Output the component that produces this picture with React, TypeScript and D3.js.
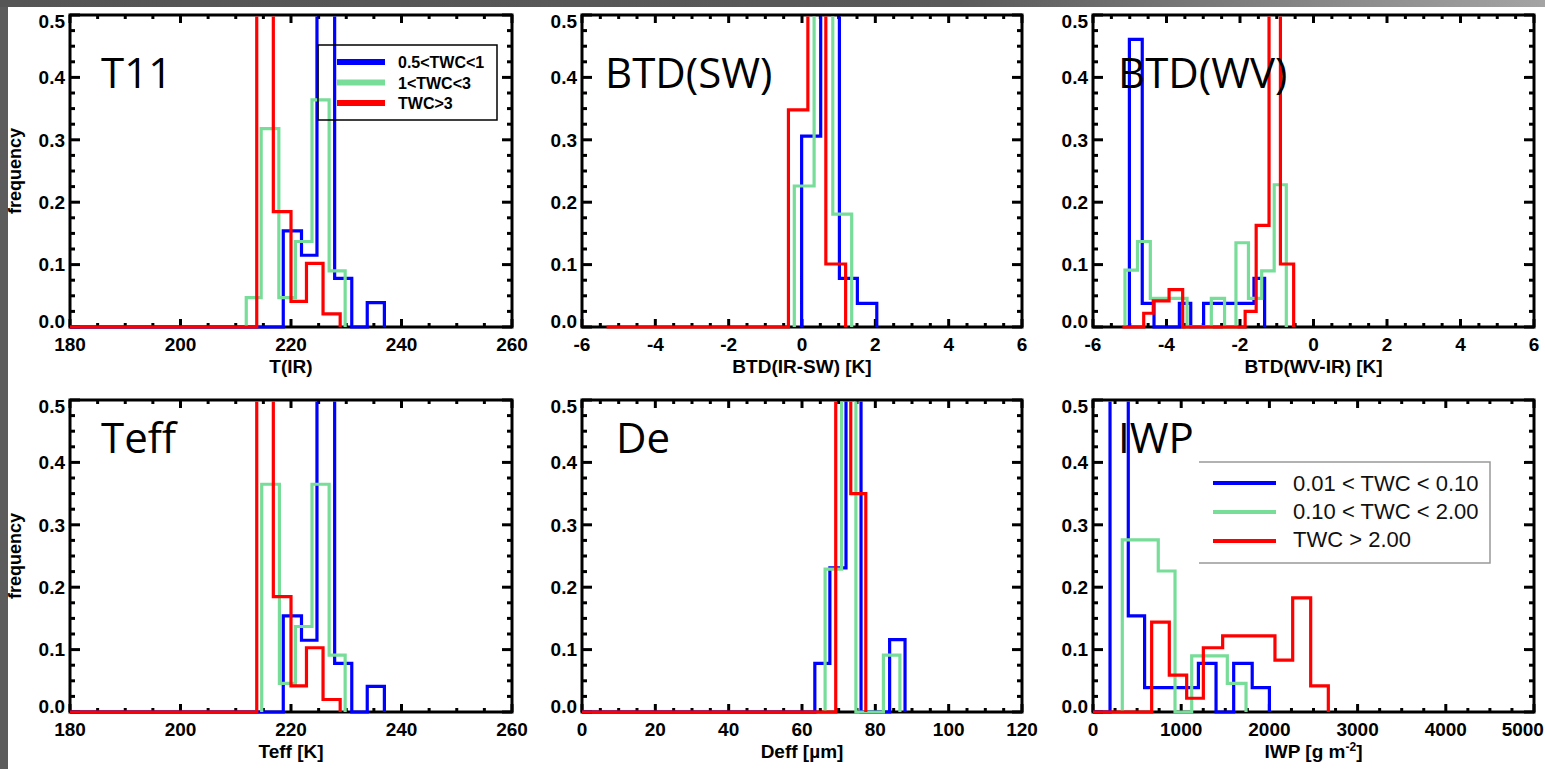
import React from 'react';
import * as d3 from 'd3';

const width = 1545;
const height = 769;

// tick labels
const freqTicks = [0, 0.1, 0.2, 0.3, 0.4, 0.5];
const tempTicks = [180, 200, 220, 240, 260];
const btdTicks = [-6, -4, -2, 0, 2, 4, 6];
const deffTicks = [0, 20, 40, 60, 80, 100, 120];
const iwpTicks = [0, 1000, 2000, 3000, 4000, 5000];

const seriesColors = ['#0000ff', '#77dd99', '#ff0000'];
const legendLabels = ['0.5<TWC<1', '1<TWC<3', 'TWC>3'];
const iwpLegendLabels = ['0.01 < TWC < 0.10', '0.10 < TWC < 2.00', 'TWC > 2.00'];

// T11 / T(IR)
const t11BlueEdges = [180, 218.6, 221.9, 224.7, 227.9, 231.0, 233.8, 236.9];
const t11BlueFreq = [0, 0.154, 0.115, 0.6, 0.078, 0, 0.039];
const t11GreenEdges = [211.9, 214.6, 217.8, 220.8, 223.8, 226.9, 229.8];
const t11GreenFreq = [0.047, 0.318, 0.047, 0.137, 0.364, 0.09];
const t11RedEdges = [180, 213.8, 216.8, 220.0, 222.8, 225.8, 228.9];
const t11RedFreq = [0, 0.6, 0.185, 0.041, 0.102, 0.021];

// BTD(IR-SW)
const swBlueEdges = [-0.01, 0.51, 1.02, 1.51, 2.04];
const swBlueFreq = [0.306, 0.6, 0.078, 0.038];
const swGreenEdges = [-0.21, 0.33, 0.84, 1.355];
const swGreenFreq = [0.226, 0.6, 0.181];
const swRedEdges = [-5.33, -0.37, 0.16, 0.65, 1.19];
const swRedFreq = [0, 0.348, 0.6, 0.101];

// BTD(WV-IR)
const wvBlueEdges = [-5.01, -4.66, -4.34, -4.0, -3.65, -3.34, -2.99, -2.66, -2.33, -1.99, -1.62, -1.33];
const wvBlueFreq = [0.461, 0.038, 0, 0, 0.038, 0, 0.038, 0.038, 0.038, 0.038, 0.078];
const wvGreenEdges = [-5.13, -4.79, -4.44, -4.12, -3.78, -3.44, -3.1, -2.78, -2.42, -2.11, -1.77, -1.41, -1.07, -0.74];
const wvGreenFreq = [0.091, 0.137, 0.046, 0.046, 0.046, 0, 0, 0.046, 0, 0.135, 0.046, 0.09, 0.228];
const wvRedEdges = [-5.2, -4.62, -4.36, -3.93, -3.56, -1.86, -1.56, -1.21, -0.9, -0.54];
const wvRedFreq = [0, 0.022, 0.042, 0.06, 0, 0.025, 0.163, 0.6, 0.101];

// Teff
const teffBlueEdges = [180, 218.6, 221.9, 224.7, 227.9, 231.0, 233.8, 236.9];
const teffBlueFreq = [0, 0.154, 0.115, 0.6, 0.078, 0, 0.041];
const teffGreenEdges = [214.7, 217.9, 220.8, 223.8, 226.9, 229.8];
const teffGreenFreq = [0.365, 0.046, 0.137, 0.365, 0.091];
const teffRedEdges = [180, 213.8, 216.8, 220.0, 222.8, 225.8, 228.9];
const teffRedFreq = [0, 0.6, 0.185, 0.042, 0.103, 0.02];

// Deff
const deffBlueEdges = [0, 63.5, 67.6, 72.0, 76.1, 80.0, 83.9, 88.1];
const deffBlueFreq = [0, 0.078, 0.231, 0.6, 0, 0, 0.116];
const deffGreenEdges = [66.3, 70.8, 74.7, 78.5, 82.2, 86.7];
const deffGreenFreq = [0.229, 0.6, 0, 0, 0.091];
const deffRedEdges = [0, 69.2, 73.3, 77.4];
const deffRedFreq = [0, 0.6, 0.35];

// IWP
const iwpBlueEdges = [0, 193, 400, 585, 790, 995, 1195, 1395, 1595, 1805, 2000];
const iwpBlueFreq = [0, 0.6, 0.154, 0.039, 0.039, 0.039, 0.078, 0, 0.078, 0.039];
const iwpGreenEdges = [332, 536, 740, 930, 1119, 1321, 1523, 1735];
const iwpGreenFreq = [0.276, 0.276, 0.226, 0, 0.09, 0.09, 0.046];
const iwpRedEdges = [0, 665, 865, 1062, 1251, 1470, 1670, 1870, 2063, 2264, 2468, 2668];
const iwpRedFreq = [0, 0.144, 0.059, 0.022, 0.103, 0.122, 0.122, 0.122, 0.083, 0.183, 0.042];

const panels = [
  { title: 'T11', xLabel: 'T(IR)', ticks: tempTicks, minor: 5,
    series: [[t11BlueEdges, t11BlueFreq], [t11GreenEdges, t11GreenFreq], [t11RedEdges, t11RedFreq]] },
  { title: 'BTD(SW)', xLabel: 'BTD(IR-SW) [K]', ticks: btdTicks, minor: 0.5,
    series: [[swBlueEdges, swBlueFreq], [swGreenEdges, swGreenFreq], [swRedEdges, swRedFreq]] },
  { title: 'BTD(WV)', xLabel: 'BTD(WV-IR) [K]', ticks: btdTicks, minor: 0.5,
    series: [[wvBlueEdges, wvBlueFreq], [wvGreenEdges, wvGreenFreq], [wvRedEdges, wvRedFreq]] },
  { title: 'Teff', xLabel: 'Teff [K]', ticks: tempTicks, minor: 5,
    series: [[teffBlueEdges, teffBlueFreq], [teffGreenEdges, teffGreenFreq], [teffRedEdges, teffRedFreq]] },
  { title: 'De', xLabel: 'Deff [µm]', ticks: deffTicks, minor: 5,
    series: [[deffBlueEdges, deffBlueFreq], [deffGreenEdges, deffGreenFreq], [deffRedEdges, deffRedFreq]] },
  { title: 'IWP', xLabel: 'IWP', ticks: iwpTicks, minor: 250,
    series: [[iwpBlueEdges, iwpBlueFreq], [iwpGreenEdges, iwpGreenFreq], [iwpRedEdges, iwpRedFreq]] },
];

// layout (pixels)
const cols = [[70, 512], [582, 1022], [1093, 1534]];
const rows = [[15, 327], [400, 712]];
const titleDx = [31, 23, 25, 31, 34, 25];
const titleDy = [73, 53];

const labelFont = "'Liberation Sans', Arial, Helvetica, sans-serif";
const titleFont = "'Open Sans', 'Noto Sans', sans-serif";

const Panel = ({ p, i }: { p: any; i: number }) => {
  const [left, right] = cols[i % 3];
  const r = Math.floor(i / 3);
  const [top, bottom] = rows[r];
  const domain = [p.ticks[0], p.ticks[p.ticks.length - 1]];
  const x = d3.scaleLinear().domain(domain).range([left, right]);
  const y = d3.scaleLinear().domain([0, 0.5]).range([bottom, top]);
  const line = d3.line<number[]>().x((d) => x(d[0])).y((d) => y(d[1]));
  const xMinor = d3.range(domain[0], domain[1] + 1e-9, p.minor);
  const yMinor = d3.range(0, 0.5 + 1e-9, 0.025);

  const stepPath = (edges: number[], freq: number[]) => {
    const pts: number[][] = [[edges[0], 0]];
    freq.forEach((f, k) => {
      pts.push([edges[k], f], [edges[k + 1], f]);
    });
    pts.push([edges[edges.length - 1], 0]);
    return line(pts) as string;
  };

  const clipId = `clip${i}`;
  return (
    <g>
      <defs>
        <clipPath id={clipId}>
          <rect x={left - 2} y={top + 1.5} width={right - left + 4} height={bottom - top + 1} />
        </clipPath>
      </defs>
      {/* ticks on four sides */}
      {yMinor.map((t) => {
        const major = Math.abs(t * 10 - Math.round(t * 10)) < 1e-6;
        const len = major ? 10 : 5;
        return (
          <g key={'y' + t} stroke="#000" strokeWidth={3}>
            <line x1={left} x2={left + len} y1={y(t)} y2={y(t)} />
            <line x1={right} x2={right - len} y1={y(t)} y2={y(t)} />
          </g>
        );
      })}
      {xMinor.map((t) => {
        const major = p.ticks.some((m: number) => Math.abs(m - t) < 1e-6);
        const len = major ? 8 : 4;
        return (
          <g key={'x' + t} stroke="#000" strokeWidth={3}>
            <line x1={x(t)} x2={x(t)} y1={bottom} y2={bottom - len} />
            <line x1={x(t)} x2={x(t)} y1={top} y2={top + len} />
          </g>
        );
      })}
      <rect x={left} y={top} width={right - left} height={bottom - top} fill="none" stroke="#000" strokeWidth={3} />

      {/* histograms */}
      <g clipPath={`url(#${clipId})`} fill="none" strokeWidth={3.2} strokeLinejoin="miter">
        {p.series.map((s: number[][], k: number) => (
          <path key={k} d={stepPath(s[0], s[1])} stroke={seriesColors[k]} />
        ))}
      </g>

      {/* tick labels */}
      <g fontFamily={labelFont} fontWeight="bold" fontSize={19} fill="#000">
        {freqTicks.map((t) => (
          <text key={t} x={left - 5} y={Math.min(Math.max(y(t), top + 6), bottom - 6)} dy="0.36em" textAnchor="end">
            {t.toFixed(1)}
          </text>
        ))}
        {p.ticks.map((t: number) => {
          // keep the last label of the right column inside the window
          const tx = Math.min(x(t), width - 1 - String(t).length * 5.3);
          return (
            <text key={t} x={tx} y={bottom + 24} textAnchor="middle">
              {String(t)}
            </text>
          );
        })}
        <text x={(left + right) / 2} y={bottom + 46} textAnchor="middle">
          {p.xLabel === 'IWP' ? (
            <>
              IWP [g m<tspan dy={-7} fontSize={12}>-2</tspan>
              <tspan dy={7}>]</tspan>
            </>
          ) : (
            p.xLabel
          )}
        </text>
        {i % 3 === 0 && (
          <text transform={`translate(21,${(top + bottom) / 2}) rotate(-90)`} textAnchor="middle" fontSize={18}>
            frequency
          </text>
        )}
      </g>

      <text x={left + titleDx[i]} y={top + titleDy[r]} fontFamily={titleFont} fontSize={42} fill="#000">
        {p.title}
      </text>
    </g>
  );
};

const App = () => {
  return (
    <svg
      width={width}
      height={height}
      style={{ position: 'absolute', left: 0, top: 0, display: 'block' }}
    >
      <defs>
        <linearGradient id="topBand" x1="0" x2="1" y1="0" y2="0">
          <stop offset="0" stopColor="#555" />
          <stop offset="0.62" stopColor="#5a5a5a" />
          <stop offset="1" stopColor="#a4a4a4" />
        </linearGradient>
      </defs>
      <rect x={0} y={0} width={width} height={height} fill="#5c5c5c" />
      <rect x={0} y={0} width={width} height={7} fill="url(#topBand)" />
      <rect x={8} y={7} width={width - 8} height={height - 7} fill="#fff" />

      {panels.map((p, i) => (
        <Panel key={i} p={p} i={i} />
      ))}

      {/* legend, T11 panel */}
      <g>
        <rect x={318} y={45} width={179} height={75} fill="none" stroke="#000" strokeWidth={1.5} />
        {legendLabels.map((l, k) => (
          <g key={l}>
            <line x1={337} x2={385} y1={62 + k * 20.5} y2={62 + k * 20.5} stroke={seriesColors[k]} strokeWidth={6} />
            <text x={398} y={68 + k * 20.5} fontFamily={labelFont} fontWeight="bold" fontSize={16}>
              {l}
            </text>
          </g>
        ))}
      </g>

      {/* legend, IWP panel */}
      <g>
        <rect x={1199} y={462} width={291} height={101} fill="#fff" />
        <path d="M1199,462H1490V563H1199" fill="none" stroke="#999" strokeWidth={1.5} />
        {iwpLegendLabels.map((l, k) => (
          <g key={l}>
            <line x1={1213} x2={1276} y1={483 + k * 29} y2={483 + k * 29} stroke={seriesColors[k]} strokeWidth={4} />
            <text x={1293} y={491 + k * 28} fontFamily={labelFont} fontSize={22} fill="#111">
              {l}
            </text>
          </g>
        ))}
      </g>
    </svg>
  );
};

export default App;
